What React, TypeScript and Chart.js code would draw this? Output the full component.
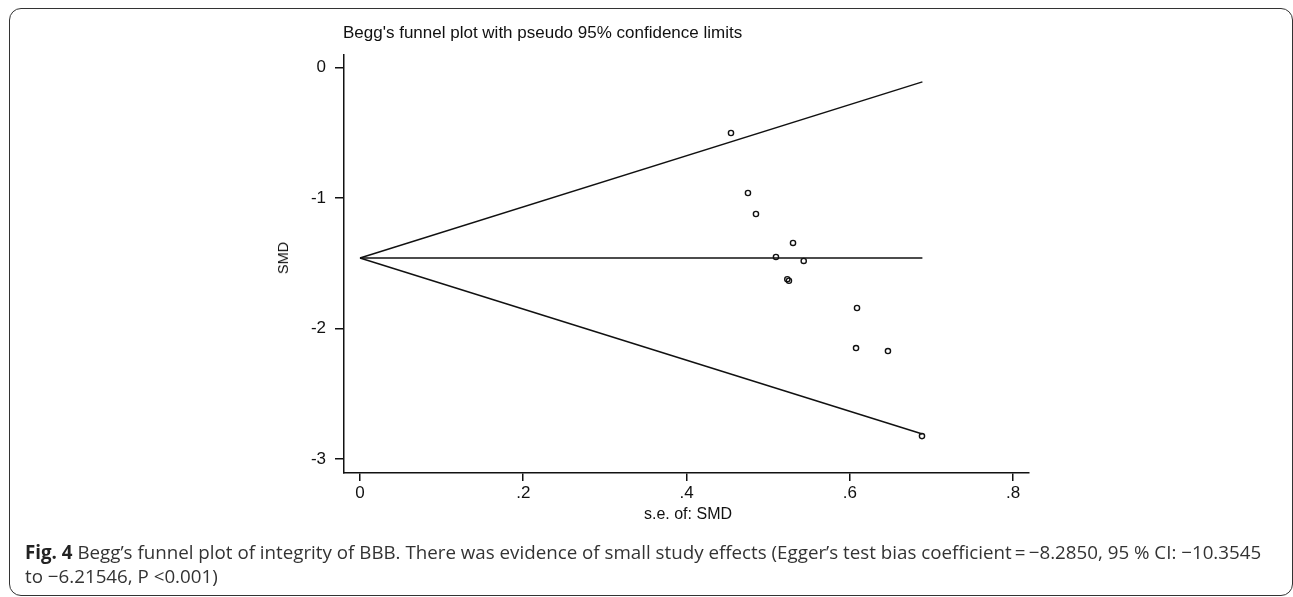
import React, { useEffect, useRef } from "react";
import { Chart, registerables } from "chart.js";

Chart.register(...registerables);

// Study points: standard error (x) and standardized mean difference (y)
const studySE = [0.4545, 0.4753, 0.4851, 0.5305, 0.5096, 0.5436, 0.5235, 0.5255, 0.6089, 0.6077, 0.6468, 0.6885];
const studySMD = [-0.501, -0.961, -1.122, -1.344, -1.452, -1.482, -1.622, -1.634, -1.843, -2.150, -2.173, -2.825];

// Pseudo 95% confidence limits and pooled estimate line
const funnelSE = [0, 0.689];
const upperLimit = [-1.459, -0.109];
const lowerLimit = [-1.459, -2.809];
const pooledLine = [-1.459, -1.459];

// Axis ticks
const xTickValues = [0, 0.2, 0.4, 0.6, 0.8];
const xTickLabels = ["0", ".2", ".4", ".6", ".8"];
const yTickValues = [0, -1, -2, -3];
const yTickLabels = ["0", "-1", "-2", "-3"];

const chartTitle = "Begg's funnel plot with pseudo 95% confidence limits";
const xAxisTitle = "s.e. of: SMD";
const yAxisTitle = "SMD";
const captionBold = "Fig. 4";
const captionLine1 =
  " Begg\u2019s funnel plot of integrity of BBB. There was evidence of small study effects (Egger\u2019s test bias coefficient\u2009=\u2009\u22128.2850, 95 % CI: \u221210.3545";
const captionLine2 = "to \u22126.21546, P <0.001)";

const INK = "#111";
const AXIS_FONT = "'Liberation Sans', Arial, Helvetica, sans-serif";

function toPoints(xs: number[], ys: number[]) {
  return xs.map((x, i) => ({ x, y: ys[i] }));
}

function labelFor(values: number[], labels: string[], v: number) {
  const i = values.findIndex((t) => Math.abs(t - v) < 1e-9);
  return i >= 0 ? labels[i] : "";
}

export default function App() {
  const canvasRef = useRef<HTMLCanvasElement | null>(null);

  useEffect(() => {
    const canvas = canvasRef.current;
    if (!canvas) return;
    const lineStyle = {
      showLine: true,
      borderColor: INK,
      borderWidth: 1.5,
      pointRadius: 0,
      fill: false,
    };
    const chart = new Chart(canvas, {
      type: "scatter",
      data: {
        datasets: [
          { ...lineStyle, data: toPoints(funnelSE, upperLimit) },
          { ...lineStyle, data: toPoints(funnelSE, lowerLimit) },
          { ...lineStyle, data: toPoints(funnelSE, pooledLine) },
          {
            data: toPoints(studySE, studySMD),
            pointStyle: "circle",
            pointRadius: 2.6,
            pointBorderWidth: 1.4,
            borderColor: INK,
            pointBorderColor: INK,
            backgroundColor: "rgba(0,0,0,0)",
            pointBackgroundColor: "rgba(0,0,0,0)",
            showLine: false,
          },
        ],
      } as any,
      options: {
        animation: false,
        responsive: false,
        devicePixelRatio: 1,
        layout: { padding: { left: 244, right: 264, top: 55, bottom: 7 } },
        plugins: {
          legend: { display: false },
          tooltip: { enabled: false },
          title: { display: false },
        },
        scales: {
          x: {
            type: "linear",
            min: -0.0196,
            max: 0.8196,
            afterFit: (s: any) => {
              s.height = 60;
            },
            afterBuildTicks: (s: any) => {
              s.ticks = xTickValues.map((v) => ({ value: v }));
            },
            ticks: {
              callback: (v: any) => labelFor(xTickValues, xTickLabels, Number(v)),
              font: { family: AXIS_FONT, size: 17 },
              color: INK,
              padding: 2,
              maxRotation: 0,
              autoSkip: false,
            },
            grid: {
              drawOnChartArea: false,
              drawTicks: true,
              tickLength: 8,
              color: INK,
              lineWidth: 1.5,
            },
            border: { display: true, color: INK, width: 1.5 },
          },
          y: {
            type: "linear",
            min: -3.108,
            max: 0.097,
            afterFit: (s: any) => {
              s.width = 100;
            },
            afterBuildTicks: (s: any) => {
              s.ticks = yTickValues.map((v) => ({ value: v }));
            },
            ticks: {
              callback: (v: any) => labelFor(yTickValues, yTickLabels, Number(v)),
              font: { family: AXIS_FONT, size: 17 },
              color: INK,
              padding: 9,
              autoSkip: false,
            },
            grid: {
              drawOnChartArea: false,
              drawTicks: true,
              tickLength: 9,
              color: INK,
              lineWidth: 1.5,
            },
            border: { display: true, color: INK, width: 1.5 },
          },
        },
      } as any,
    });
    return () => chart.destroy();
  }, []);

  return (
    <div
      style={{
        position: "absolute",
        left: 0,
        top: 0,
        width: 1293,
        height: 597,
        overflow: "hidden",
        background: "#fff",
      }}
    >
      <div
        style={{
          position: "absolute",
          left: 9,
          top: 8,
          width: 1284,
          height: 588,
          boxSizing: "border-box",
          border: "1.6px solid #333",
          borderRadius: 12,
        }}
      />
      <canvas
        ref={canvasRef}
        width={1293}
        height={540}
        style={{ position: "absolute", left: 0, top: 0, width: 1293, height: 540 }}
      />
      <div
        style={{
          position: "absolute",
          left: 343,
          top: 23,
          font: `17px ${AXIS_FONT}`,
          lineHeight: "20px",
          color: INK,
          whiteSpace: "nowrap",
        }}
      >
        {chartTitle}
      </div>
      <div
        style={{
          position: "absolute",
          left: 688,
          top: 504,
          transform: "translateX(-50%)",
          font: `16px ${AXIS_FONT}`,
          lineHeight: "20px",
          color: INK,
          whiteSpace: "nowrap",
        }}
      >
        {xAxisTitle}
      </div>
      <div
        style={{
          position: "absolute",
          left: 283,
          top: 258,
          transform: "translate(-50%, -50%) rotate(-90deg)",
          font: `14.5px ${AXIS_FONT}`,
          lineHeight: "18px",
          color: INK,
          whiteSpace: "nowrap",
        }}
      >
        {yAxisTitle}
      </div>
      <div
        style={{
          position: "absolute",
          left: 25,
          top: 540,
          font: "18.75px 'Open Sans', 'Noto Sans', sans-serif",
          lineHeight: "24px",
          color: "#333",
          whiteSpace: "nowrap",
        }}
      >
        <div>
          <span style={{ fontWeight: 700, color: "#222" }}>{captionBold}</span>
          {captionLine1}
        </div>
        <div>{captionLine2}</div>
      </div>
    </div>
  );
}
